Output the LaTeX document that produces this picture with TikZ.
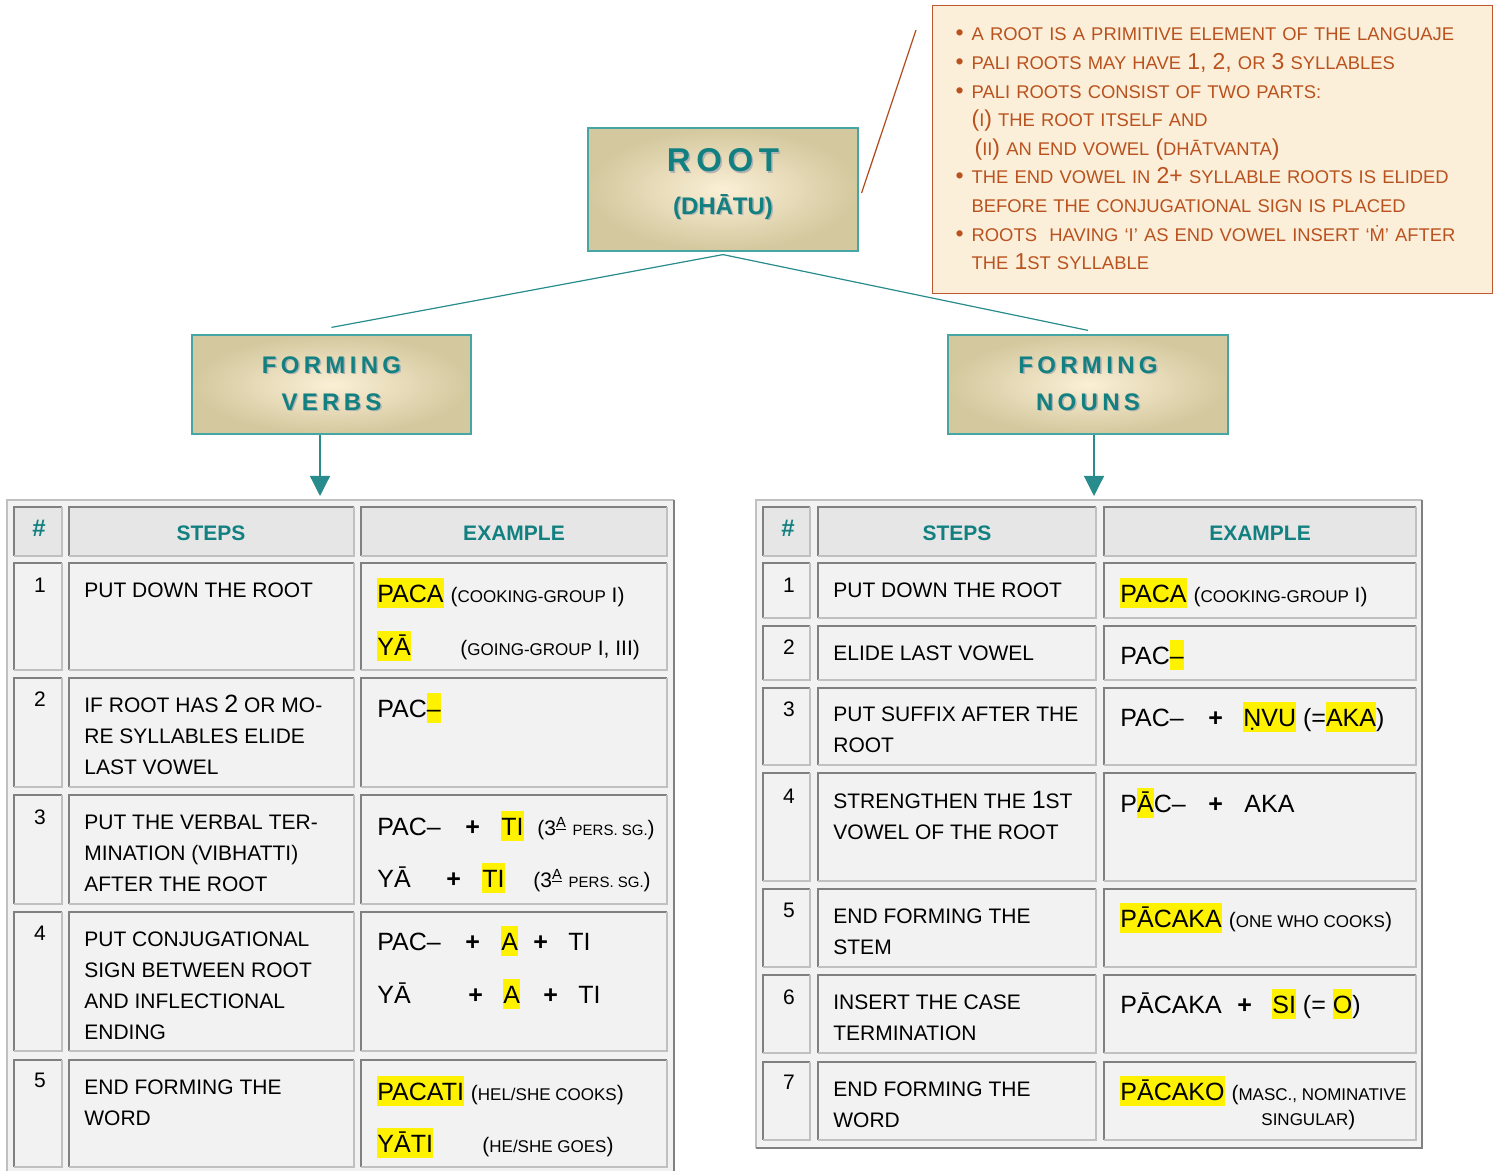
\documentclass[tikz,border=0pt]{standalone}
\usepackage{fontspec}
\setmainfont{Liberation Sans}
\usepackage{xcolor}
\usetikzlibrary{arrows.meta}

\definecolor{tealtxt}{RGB}{18,128,128}
\definecolor{tealline}{RGB}{40,140,140}
\definecolor{tealedge}{RGB}{70,165,165}
\definecolor{boxedge}{RGB}{212,200,158}
\definecolor{boxmid}{RGB}{251,239,214}
\definecolor{notetxt}{RGB}{185,82,30}
\definecolor{noteedge}{RGB}{190,88,45}
\definecolor{notefill}{RGB}{252,239,217}
\definecolor{noteline}{RGB}{176,74,26}
\definecolor{cellgray}{RGB}{242,242,242}
\definecolor{headgray}{RGB}{230,230,230}
\definecolor{darkrule}{RGB}{128,128,128}
\definecolor{lightrule}{RGB}{192,192,192}

\newcommand{\hl}[1]{{\setlength{\fboxsep}{0pt}\colorbox{yellow}{\rule[-3pt]{0pt}{15pt}#1}}}
\newcommand{\sm}[1]{{\fontsize{8.5}{10}\selectfont #1}}
\newcommand{\smm}[1]{{\fontsize{7.5}{10}\selectfont #1}}
\newcommand{\gl}[1]{{\fontsize{10.5}{12}\selectfont #1}}
\newcommand{\dg}[1]{{\fontsize{12.5}{15.5}\selectfont #1}}
\newcommand{\nd}[1]{{\fontsize{11.5}{14.3}\selectfont #1}}
\newcommand{\seg}[2]{\makebox[#1pt][l]{#2}}
\newcommand{\bul}{\leavevmode\llap{\nd{\textbullet}\hspace{4pt}}}
\newcommand{\pl}{\textbf{+}}
\newcommand{\shd}[1]{\makebox[0pt][l]{\raisebox{-0.7pt}{\hspace{0.7pt}\textcolor{black!30}{#1}}}#1}

\tikzset{
  titlebox/.style={draw=tealedge, line width=0.6pt, inner color=boxmid, outer color=boxedge,
    text=tealtxt, align=center, inner sep=0pt},
  notebox/.style={draw=noteedge, line width=0.6pt, fill=notefill, text=notetxt,
    anchor=north west, text width=246pt, align=left, inner xsep=17pt, inner ysep=7.5pt,
    minimum height=144pt, font=\fontsize{9.2}{14.3}\selectfont},
  hdr/.style={text=tealtxt, inner sep=0pt, font=\bfseries\fontsize{10.5}{12}\selectfont},
  num/.style={inner sep=0pt, font=\fontsize{10.5}{12}\selectfont},
  steptext/.style={anchor=north west, align=left, inner sep=0pt, font=\fontsize{10.5}{15.5}\selectfont},
  extext/.style={anchor=base west, inner sep=0pt, font=\fontsize{12.5}{15}\selectfont},
  darkedge/.style={darkrule, line width=0.75pt},
  lightedge/.style={lightrule, line width=0.75pt},
  link/.style={tealline, line width=0.6pt},
}

\begin{document}
\begin{tikzpicture}[x=0.5pt,y=-0.5pt]
\useasboundingbox (0,0) rectangle (1494,1171);

% title boxes
\node[titlebox, minimum width=135pt, minimum height=61.5pt,
  font=\bfseries\fontsize{12}{21.4}\selectfont] (root) at (723,189.5)
  {{\fontsize{16.5}{20}\selectfont\addfontfeature{LetterSpace=17}\shd{ROOT}}\\\shd{(DHĀTU)}\rule[-8pt]{0pt}{0pt}};
\node[titlebox, minimum width=139.5pt, minimum height=49.5pt,
  font=\bfseries\fontsize{12}{18.5}\selectfont\addfontfeature{LetterSpace=18}] (verbs) at (331.5,384.5)
  {\shd{FORMING}\\\shd{VERBS}};
\node[titlebox, minimum width=140pt, minimum height=49.5pt,
  font=\bfseries\fontsize{12}{18.5}\selectfont\addfontfeature{LetterSpace=18}] (nouns) at (1088,384.5)
  {\shd{FORMING}\\\shd{NOUNS}};

% notes on the root
\node[notebox] (note) at (932,5) {\leftskip=2.5pt
\strut\bul A ROOT IS A PRIMITIVE ELEMENT OF THE LANGUAJE\\
\bul PALI ROOTS MAY HAVE \nd{1,} \nd{2,} OR \nd{3} SYLLABLES\\
\bul PALI ROOTS CONSIST OF TWO PARTS:\\
\nd{(}I\nd{)} THE ROOT ITSELF AND\\
\hspace*{1.5pt}\nd{(}II\nd{)} AN END VOWEL \nd{(}DHĀTVANTA\nd{)}\\
\bul THE END VOWEL IN \nd{2+} SYLLABLE ROOTS IS ELIDED\\
BEFORE THE CONJUGATIONAL SIGN IS PLACED\\
\bul ROOTS\ \ HAVING ‘I’ AS END VOWEL INSERT ‘Ṁ’ AFTER\\
\hspace*{2.5pt}THE \nd{1}ST SYLLABLE\strut};
\coordinate (notetip) at (916,30);
\draw[noteline, line width=0.6pt] ([xshift=1.5pt,yshift=-1.75pt]root.east) -- (notetip);

% connectors
\draw[link] ([yshift=-1.5pt]root.south) -- ([yshift=3.5pt]verbs.north);
\draw[link] ([yshift=-1.5pt]root.south) -- ([yshift=2pt]nouns.north);
\coordinate (vtip) at (320,496);
\coordinate (ntip) at (1094,496);
\draw[link, -{Triangle[width=10pt,length=10pt]}] (verbs.south -| vtip) -- (vtip);
\draw[link, -{Triangle[width=10pt,length=10pt]}] (nouns.south -| ntip) -- (ntip);

% left table
\fill[cellgray] (7,500) rectangle (674,1175);
\draw[lightrule, line width=1pt] (7,1175) |- (674,500);
\draw[darkrule, line width=1pt] (674,500) -- (674,1175);
\foreach \xa/\xb in {14/62,69/354,361/667}{
  \foreach \ya/\yb/\f in {507/556/headgray,563/670/cellgray,678/787/cellgray,
      795/904/cellgray,912/1051/cellgray,1060/1167/cellgray}{
    \fill[\f] (\xa,\ya) rectangle (\xb,\yb);
    \draw[darkedge] (\xa,\yb) |- (\xb,\ya);
    \draw[lightedge] (\xa,\yb) -| (\xb,\ya);
  }
}

% right table
\fill[cellgray] (756,500) rectangle (1422,1148);
\draw[lightrule, line width=1pt] (756,1148) |- (1422,500);
\draw[darkrule, line width=1pt] (1422,500) |- (756,1148);
\foreach \xa/\xb in {763/810,818/1096,1104/1416}{
  \foreach \ya/\yb/\f in {507/556/headgray,563/618/cellgray,626/680/cellgray,688/765/cellgray,
      773/881/cellgray,889/967/cellgray,975/1053/cellgray,1062/1140/cellgray}{
    \fill[\f] (\xa,\ya) rectangle (\xb,\yb);
    \draw[darkedge] (\xa,\yb) |- (\xb,\ya);
    \draw[lightedge] (\xa,\yb) -| (\xb,\ya);
  }
}

% headers
\node[hdr, font=\bfseries\fontsize{12}{12}\selectfont] (lhash) at (39,528) {\#};
\node[hdr] (lsteps) at (211,533) {STEPS};
\node[hdr] (lex) at (514,533) {EXAMPLE};
\node[hdr, font=\bfseries\fontsize{12}{12}\selectfont] (rhash) at (788,528) {\#};
\node[hdr] (rsteps) at (957,533) {STEPS};
\node[hdr] (rex) at (1260,533) {EXAMPLE};

% forming verbs
\node[num] (l1n) at (40,585) {1};
\node[num] (l2n) at (40,699) {2};
\node[num] (l3n) at (40,817) {3};
\node[num] (l4n) at (40,933) {4};
\node[num] (l5n) at (40,1080) {5};
\node[steptext] (l1s) at (84,575) {\strut PUT DOWN THE ROOT};
\node[steptext] (l2s) at (84,690) {\strut IF ROOT HAS \dg{2} OR MO-\\RE SYLLABLES ELIDE\\LAST VOWEL};
\node[steptext] (l3s) at (84,807) {\strut PUT THE VERBAL TER-\\MINATION (VIBHATTI)\\AFTER THE ROOT};
\node[steptext] (l4s) at (84,924) {\strut PUT CONJUGATIONAL\\SIGN BETWEEN ROOT\\AND INFLECTIONAL\\ENDING};
\node[steptext] (l5s) at (84,1072) {\strut END FORMING THE\\WORD};
\node[extext] (l1a) at (377,602) {\hl{PACA} \gl{(\sm{COOKING-GROUP} I)}};
\node[extext] (l1b) at (377,655) {\seg{41.5}{\hl{YĀ}}\gl{(\sm{GOING-GROUP} I, III)}};
\node[extext] (l2a) at (377,717) {PAC\hl{–}};
\node[extext] (l3a) at (377,835) {\seg{44}{PAC–}\seg{18}{\pl}\seg{18}{\hl{TI}}\gl{(3\textsuperscript{\underline{A}} \smm{PERS. SG.})}};
\node[extext] (l3b) at (377,887) {\seg{34.5}{YĀ}\seg{18}{\pl}\seg{25.5}{\hl{TI}}\gl{(3\textsuperscript{\underline{A}} \smm{PERS. SG.})}};
\node[extext] (l4a) at (377,950) {\seg{44}{PAC–}\seg{18}{\pl}\seg{16}{\hl{A}}\seg{17.5}{\pl}TI};
\node[extext] (l4b) at (377,1003) {\seg{45.5}{YĀ}\seg{17.5}{\pl}\seg{20}{\hl{A}}\seg{17.5}{\pl}TI};
\node[extext] (l5a) at (377,1100) {\hl{PACATI} \gl{(\sm{HEL/SHE COOKS})}};
\node[extext] (l5b) at (377,1152) {\seg{52.5}{\hl{YĀTI}}\gl{(\sm{HE/SHE GOES})}};

% forming nouns
\node[num] (r1n) at (789,585) {1};
\node[num] (r2n) at (789,647) {2};
\node[num] (r3n) at (789,709) {3};
\node[num] (r4n) at (789,796) {4};
\node[num] (r5n) at (789,910) {5};
\node[num] (r6n) at (789,997) {6};
\node[num] (r7n) at (789,1082) {7};
\node[steptext] (r1s) at (833,575) {\strut PUT DOWN THE ROOT};
\node[steptext] (r2s) at (833,638) {\strut ELIDE LAST VOWEL};
\node[steptext] (r3s) at (833,699) {\strut PUT SUFFIX AFTER THE\\ROOT};
\node[steptext] (r4s) at (833,786) {\strut STRENGTHEN THE \dg{1}ST\\VOWEL OF THE ROOT};
\node[steptext] (r5s) at (833,901) {\strut END FORMING THE\\STEM};
\node[steptext] (r6s) at (833,987) {\strut INSERT THE CASE\\TERMINATION};
\node[steptext] (r7s) at (833,1074) {\strut END FORMING THE\\WORD};
\node[extext] (r1a) at (1120,602) {\hl{PACA} \gl{(\sm{COOKING-GROUP} I)}};
\node[extext] (r2a) at (1120,664) {PAC\hl{–}};
\node[extext] (r3a) at (1120,726) {\seg{44}{PAC–}\seg{17.5}{\pl}\hl{ṆVU} (=\hl{AKA})};
\node[extext] (r4a) at (1120,812) {\seg{44}{P\hl{Ā}C–}\seg{18}{\pl}AKA};
\node[extext] (r5a) at (1120,927) {\hl{PĀCAKA} \gl{(\sm{ONE WHO COOKS})}};
\node[extext] (r6a) at (1120,1013) {\seg{58.5}{PĀCAKA}\seg{17.5}{\pl}\hl{SI} (= \hl{O})};
\node[extext] (r7a) at (1120,1100) {\hl{PĀCAKO} \gl{(\sm{MASC., NOMINATIVE}}};
\node[extext] (r7b) at (1261,1125) {\gl{\sm{SINGULAR})}};
\end{tikzpicture}
\end{document}
